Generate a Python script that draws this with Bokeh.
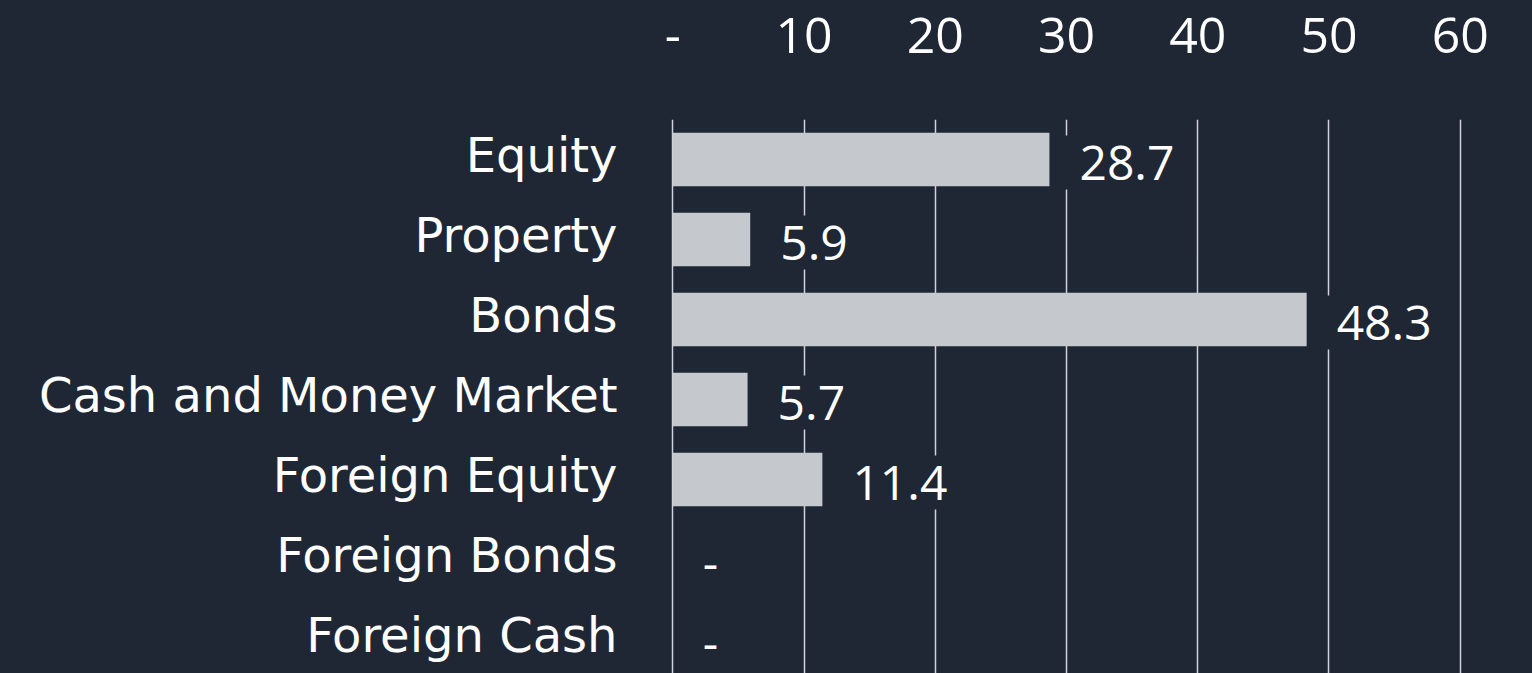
from bokeh.plotting import figure
from bokeh.models import Range1d, FixedTicker, ColumnDataSource, CDSView, BooleanFilter
from bokeh.core.properties import value
from bokeh.embed import file_html
from bokeh.resources import INLINE

categories = ["Equity", "Property", "Bonds", "Cash and Money Market",
              "Foreign Equity", "Foreign Bonds", "Foreign Cash"]
values = [28.7, 5.9, 48.3, 5.7, 11.4, 0.0, 0.0]
x_ticks = [0, 10, 20, 30, 40, 50, 60]
x_tick_labels = ["-", "10", "20", "30", "40", "50", "60"]

BG = "#1f2734"
BAR = "#c5c8cd"
GRID = "#cfd2dc"
CAT_FONT = "DejaVu Sans"
NUM_FONT = "Open Sans"
LABEL_NUDGE = 0.0625  # category labels sit slightly above the bar centre

positions = list(range(len(categories)))
labels = ["-" if v == 0 else f"{v:.1f}" for v in values]
source = ColumnDataSource(dict(y=positions, v=values, label=labels))
nonzero = CDSView(filter=BooleanFilter([v != 0 for v in values]))
zero = CDSView(filter=BooleanFilter([v == 0 for v in values]))

p = figure(width=1532, height=673, output_backend="svg", toolbar_location=None,
           x_range=Range1d(-0.25, 60.25), y_range=Range1d(len(categories) - 0.575, -0.5),
           x_axis_location="above",
           min_border_left=669, min_border_right=69, min_border_top=119, min_border_bottom=0,
           background_fill_color=BG, border_fill_color=None)
p.styles = {"background-color": BG}
p.outline_line_color = None

p.hbar(y="y", left=0, right="v", height=0.667, source=source,
       fill_color=BAR, line_color=None)

text_style = dict(text_font=value(NUM_FONT), text_font_size="48px", text_color="white",
                  text_align="left", text_baseline="middle")
p.text(x="v", y="y", text="label", source=source, view=nonzero,
       x_offset=10, y_offset=3,
       background_fill_color=BG, padding=(20, 10, 10, 10), **text_style)
p.text(x="v", y="y", text="label", source=source, view=zero,
       x_offset=30, y_offset=3, **text_style)

# x axis (top)
xa = p.xaxis[0]
xa.ticker = FixedTicker(ticks=x_ticks)
xa.major_label_overrides = {t: l for t, l in zip(x_ticks, x_tick_labels)}
xa.axis_line_color = None
xa.major_tick_line_color = None
xa.minor_tick_line_color = None
xa.major_tick_in = 0
xa.major_tick_out = 0
xa.major_label_text_font = NUM_FONT
xa.major_label_text_font_size = "50px"
xa.major_label_text_color = "white"
xa.major_label_standoff = 67

# y axis (left)
cat_ticks = [i - LABEL_NUDGE for i in positions]
ya = p.yaxis[0]
ya.ticker = FixedTicker(ticks=cat_ticks)
ya.major_label_overrides = {t: c for t, c in zip(cat_ticks, categories)}
ya.axis_line_color = None
ya.major_tick_line_color = None
ya.minor_tick_line_color = None
ya.major_tick_in = 0
ya.major_tick_out = 0
ya.major_label_text_font = CAT_FONT
ya.major_label_text_font_size = "48px"
ya.major_label_text_color = "white"
ya.major_label_standoff = 52

p.xgrid.ticker = FixedTicker(ticks=x_ticks)
p.xgrid.grid_line_color = GRID
p.xgrid.grid_line_width = 1.5
p.ygrid.grid_line_color = None

open("out.html", "w").write(file_html(p, INLINE))
